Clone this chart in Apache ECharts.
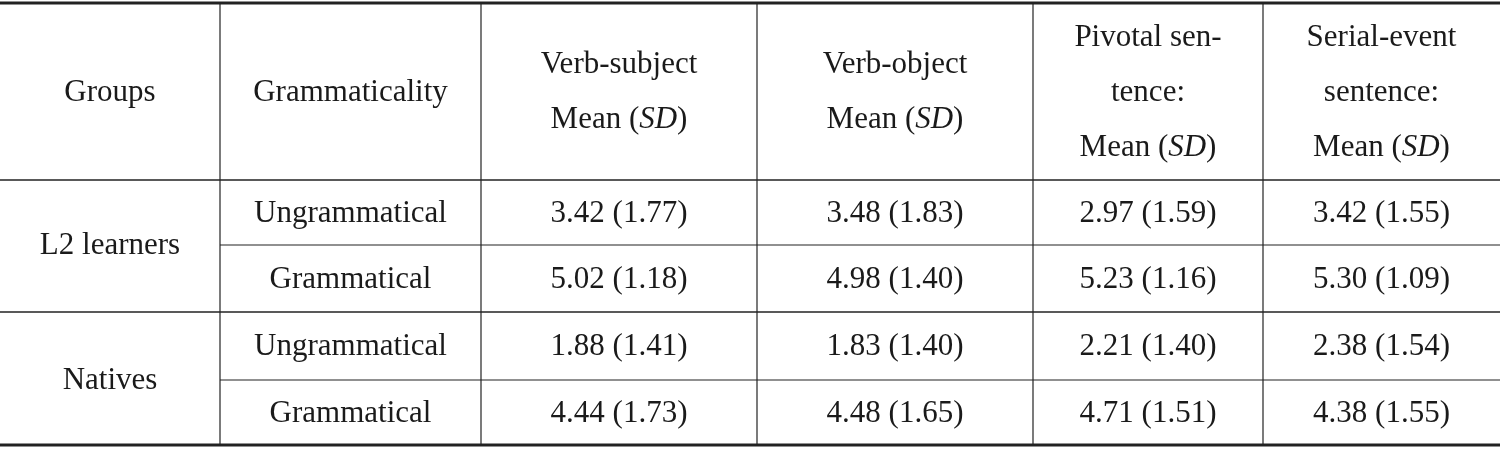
<!DOCTYPE html>
<html><head><meta charset="utf-8">
<script src="https://cdn.jsdelivr.net/npm/echarts@6/dist/echarts.min.js"></script>
<style>html,body{margin:0;padding:0;background:#fff}#c{width:1500px;height:450px}</style>
</head><body><div id="c"></div>
<script>
const headers = [["Groups"],["Grammaticality"],["Verb-subject","Mean ({i|SD})"],["Verb-object","Mean ({i|SD})"],["Pivotal sen-","tence:","Mean ({i|SD})"],["Serial-event","sentence:","Mean ({i|SD})"]];
const groups = ["L2 learners","Natives"];
const grammaticality = ["Ungrammatical","Grammatical","Ungrammatical","Grammatical"];
const verbSubject = ["3.42 (1.77)","5.02 (1.18)","1.88 (1.41)","4.44 (1.73)"];
const verbObject = ["3.48 (1.83)","4.98 (1.40)","1.83 (1.40)","4.48 (1.65)"];
const pivotal = ["2.97 (1.59)","5.23 (1.16)","2.21 (1.40)","4.71 (1.51)"];
const serialEvent = ["3.42 (1.55)","5.30 (1.09)","2.38 (1.54)","4.38 (1.55)"];

const colX = [0,220,481,757,1033,1263,1500];
const rowY = [180,245,312,380,445];
const topY = 3;
const font = '"Liberation Serif","DejaVu Serif",serif';
const fs = 31;
const els = [];
function txt(x,y,s){els.push({type:'text',x:x,y:y,style:{text:s,font:fs+'px '+font,fill:'#1a1a1a',align:'center',verticalAlign:'middle',rich:{i:{fontStyle:'italic',fontSize:fs,fontFamily:font,fill:'#1a1a1a'}}}});}
function line(x1,y1,x2,y2,w){els.push({type:'line',shape:{x1,y1,x2,y2},style:{stroke:'#222',lineWidth:w}});}
line(0,topY,1500,topY,3);
line(0,rowY[0],1500,rowY[0],1.5);
line(colX[1],rowY[1],1500,rowY[1],1.2);
line(0,rowY[2],1500,rowY[2],1.5);
line(colX[1],rowY[3],1500,rowY[3],1.2);
line(0,rowY[4],1500,rowY[4],3);
for(let i=1;i<colX.length-1;i++) line(colX[i],topY,colX[i],rowY[4],1.2);
headers.forEach((h,c)=>{
  const cx=(colX[c]+colX[c+1])/2, n=h.length, lh=55, cy=(topY+rowY[0])/2+1;
  h.forEach((s,k)=>txt(cx,cy+(k-(n-1)/2)*lh,s));
});
groups.forEach((g,k)=>txt((colX[0]+colX[1])/2,rowY[2*k+1]+1,g));
const cols=[grammaticality,verbSubject,verbObject,pivotal,serialEvent];
cols.forEach((col,c)=>col.forEach((v,r)=>txt((colX[c+1]+colX[c+2])/2,(rowY[r]+rowY[r+1])/2+1,v)));
const chart=echarts.init(document.getElementById('c'));
chart.setOption({animation:false,graphic:{elements:els}});
</script></body></html>
